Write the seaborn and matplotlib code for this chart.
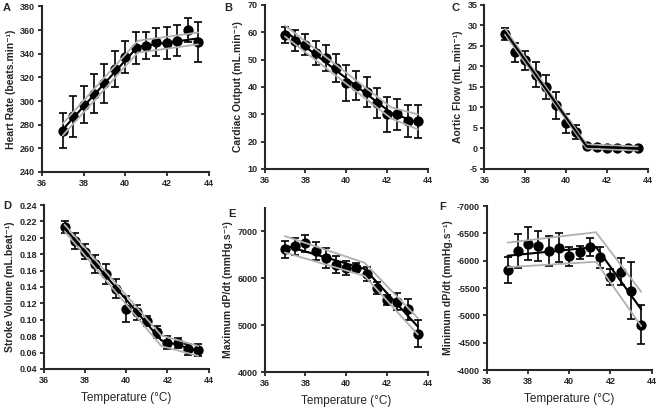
import numpy as np
import pandas as pd
import matplotlib
matplotlib.use("Agg")
import matplotlib.pyplot as plt
import seaborn as sns

# Temperatures (deg C) at which each measurement was taken
temps = [37, 37.5, 38, 38.5, 39, 39.5, 40, 40.5, 41, 41.5, 42, 42.5, 43, 43.5]

# A - heart rate
hr_mean = [275, 287, 297, 306, 315, 327, 337, 345, 347, 350, 349, 351, 360, 350]
hr_err = [14.5, 17.5, 15.5, 16.5, 16.5, 15.5, 13.5, 13.5, 11.5, 12, 13.5, 13, 10, 17]
hr_fit_x = [37, 40.6, 43.5]
hr_fit = [276, 346, 353]
hr_hi = [281, 351, 358]
hr_lo = [271, 341, 348]

# B - cardiac output
co_mean = [59, 57, 55.5, 52.5, 50.5, 47, 41.5, 40.5, 38, 34, 30, 30, 27.5, 27.5]
co_err = [3, 3.7, 3.8, 4.5, 4.7, 5, 6.5, 5.3, 5.5, 5.5, 6.3, 5.7, 5.8, 6]
co_fit_x = [37, 42.2, 43.5]
co_fit = [60.5, 30.5, 27]
co_hi = [62.5, 32.5, 30]
co_lo = [58.5, 28.5, 24.5]

# C - aortic flow
af_mean = [28, 23.5, 21.5, 18, 15, 10.5, 6.2, 4, 0.5, 0.3, 0.1, 0, 0, 0]
af_err = [1.5, 2.3, 2.3, 3, 3, 3.3, 2.3, 1.8, 0.3, 0.3, 0.3, 0.3, 0.3, 0.3]
af_fit_x = [37, 41, 43.5]
af_fit = [28.5, 0.5, 0]
af_hi = [29.2, 1.0, 0.5]
af_lo = [27.8, 0.0, -0.5]

# D - stroke volume
sv_mean = [0.213, 0.196, 0.183, 0.168, 0.156, 0.138, 0.113, 0.109, 0.099,
           0.085, 0.072, 0.072, 0.064, 0.063]
sv_err = [0.007, 0.010, 0.009, 0.011, 0.012, 0.012, 0.016, 0.009, 0.006,
          0.007, 0.008, 0.006, 0.007, 0.007]
sv_fit_x = [37, 41.7, 43.5]
sv_fit = [0.212, 0.075, 0.062]
sv_hi = [0.216, 0.081, 0.068]
sv_lo = [0.208, 0.068, 0.056]

# E - maximum dP/dt
maxdp_mean = [6620, 6680, 6750, 6580, 6430, 6290, 6220, 6230, 6100, 5790,
              5540, 5500, 5340, 4820]
maxdp_err = [180, 190, 180, 200, 210, 180, 150, 100, 150, 130, 100, 180, 220, 280]
maxdp_fit_x = [37, 40.9, 43.5]
maxdp_fit = [6700, 6200, 4970]
maxdp_hi = [6900, 6330, 5150]
maxdp_lo = [6550, 6050, 4800]

# F - minimum dP/dt
mindp_mean = [-5830, -6170, -6310, -6270, -6180, -6240, -6080, -6150, -6250,
              -6060, -5700, -5800, -5450, -4830]
mindp_err = [240, 310, 300, 270, 280, 270, 170, 120, 170, 190, 140, 240, 520, 360]
mindp_fit_x = [37, 41.3, 43.5]
mindp_fit = [-6090, -6250, -5110]
mindp_hi = [-6330, -6520, -5430]
mindp_lo = [-5880, -5980, -4800]

sns.set_style("ticks")
plt.rcParams["font.family"] = ["Liberation Sans", "DejaVu Sans"]

fig = plt.figure(figsize=(6.58, 4.09), dpi=100)
W, H = 658, 409


def make_ax(l, r, t, b):
    return fig.add_axes([l / W, 1 - b / H, (r - l) / W, (b - t) / H])


# (letter, axes box, letter position in pixels, data ..., ylabel, ylim, yticks, bottom row)
panels = [
    ("A", make_ax(42, 208.5, 6.5, 172), (3, 8), hr_mean, hr_err, hr_fit_x, hr_fit,
     hr_hi, hr_lo, "Heart Rate (beats.min⁻¹)", (240, 380), np.arange(240, 381, 20), False),
    ("B", make_ax(264.5, 428, 5, 169), (224, 8), co_mean, co_err, co_fit_x, co_fit,
     co_hi, co_lo, "Cardiac Output (mL.min⁻¹)", (10, 70), np.arange(10, 71, 10), False),
    ("C", make_ax(484.5, 648, 5, 169), (452, 8), af_mean, af_err, af_fit_x, af_fit,
     af_hi, af_lo, "Aortic Flow (mL.min⁻¹)", (-5, 35), np.arange(-5, 36, 5), False),
    ("D", make_ax(44, 208.5, 205, 369), (3, 206), sv_mean, sv_err, sv_fit_x, sv_fit,
     sv_hi, sv_lo, "Stroke Volume (mL.beat⁻¹)", (0.04, 0.24),
     np.arange(0.04, 0.241, 0.02), True),
    ("E", make_ax(264.5, 428, 208, 372), (228, 214), maxdp_mean, maxdp_err, maxdp_fit_x,
     maxdp_fit, maxdp_hi, maxdp_lo, "Maximum dP/dt (mmHg.s⁻¹)", (4000, 7500),
     np.arange(4000, 7001, 1000), True),
    ("F", make_ax(487, 651.5, 206, 370), (439, 207), mindp_mean, mindp_err, mindp_fit_x,
     mindp_fit, mindp_hi, mindp_lo, "Minimum dP/dt (mmHg.s⁻¹)", (-4000, -7000),
     np.arange(-7000, -3999, 500), True),
]

for (letter, ax, lpos, mean, err, fx, fit, hi, lo, ylabel, ylim, yticks,
     bottom_row) in panels:
    df = pd.DataFrame({"temp": temps, "mean": mean, "err": err})
    fit_df = pd.DataFrame({"temp": fx, "fit": fit, "hi": hi, "lo": lo})

    ax.errorbar(df["temp"], df["mean"], yerr=df["err"], fmt="none", ecolor="black",
                elinewidth=1.2, capsize=3.2, capthick=1.2, zorder=2)
    sns.scatterplot(data=df, x="temp", y="mean", ax=ax, color="black", s=55,
                    edgecolor="black", linewidth=0, zorder=3, legend=False)
    for col in ["hi", "lo"]:
        sns.lineplot(data=fit_df, x="temp", y=col, ax=ax, color="#b0b0b0", lw=1.3,
                     zorder=4, legend=False)
    sns.lineplot(data=fit_df, x="temp", y="fit", ax=ax, color="black", lw=1.5,
                 zorder=5, legend=False)

    ax.set_xlim(36, 44)
    ax.set_xticks([36, 38, 40, 42, 44])
    ax.set_ylim(*ylim)
    ax.set_yticks(yticks)
    if letter == "D":
        ax.set_yticklabels([f"{v:.2f}" for v in yticks])
    else:
        ax.set_yticklabels([f"{int(round(v))}" for v in yticks])

    sns.despine(ax=ax)
    for s in ["left", "bottom"]:
        ax.spines[s].set_linewidth(1.5)
    ax.tick_params(axis="both", direction="out", width=1.3, length=3, labelsize=6.5,
                   pad=2)
    for lab in ax.get_xticklabels() + ax.get_yticklabels():
        lab.set_fontweight("bold")

    ax.set_ylabel(ylabel, fontsize=7.5, fontweight="bold", labelpad=3)
    if bottom_row:
        ax.set_xlabel("Temperature (°C)", fontsize=8.5, labelpad=5)
    else:
        ax.set_xlabel("")
    fig.text(lpos[0] / W, 1 - lpos[1] / H, letter, fontsize=8, fontweight="bold",
             ha="left", va="center")

fig.savefig("out.png", dpi=100)
